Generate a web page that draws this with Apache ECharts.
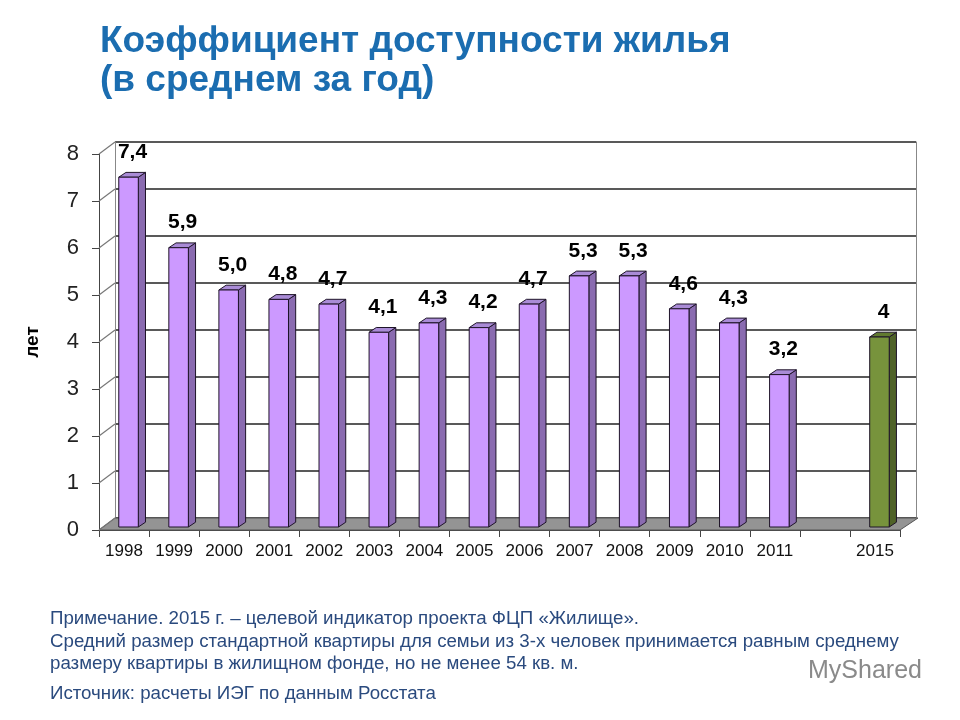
<!DOCTYPE html>
<html><head><meta charset="utf-8">
<script src="https://cdn.jsdelivr.net/npm/echarts@6/dist/echarts.min.js"></script>
<style>html,body{margin:0;padding:0;background:#fff}#c{width:960px;height:720px}</style>
</head><body><div id="c"></div>
<script>
const categories = ['1998','1999','2000','2001','2002','2003','2004','2005','2006','2007','2008','2009','2010','2011','','2015'];
const values = [7.4, 5.9, 5.0, 4.8, 4.7, 4.1, 4.3, 4.2, 4.7, 5.3, 5.3, 4.6, 4.3, 3.2, null, 4];
const valueLabels = ['7,4','5,9','5,0','4,8','4,7','4,1','4,3','4,2','4,7','5,3','5,3','4,6','4,3','3,2','','4'];
const yTicks = [0,1,2,3,4,5,6,7,8];
const targetYear = '2015';

const titleText = 'Коэффициент доступности жилья\n(в среднем за год)';
const noteLines = [
  'Примечание. 2015 г. – целевой индикатор проекта ФЦП «Жилище».',
  'Средний размер стандартной квартиры для семьи из 3-х человек принимается равным среднему',
  'размеру квартиры в жилищном фонде, но не менее 54 кв. м.',
  'Источник: расчеты ИЭГ по данным Росстата'
];

const chart = echarts.init(document.getElementById('c'));
const barData = [];
values.forEach((v,i)=>{ if(v!==null) barData.push([i,v]); });

const purple = {front:'#cc99ff', side:'#8a6bb0', top:'#a98bd6'};
const green = {front:'#77933c', side:'#4f6228', top:'#617a30'};
const DX = 8, DY = -6;   // bar depth
const WX = 16, WY = -12; // wall depth

function renderBar(params, api){
  const i = api.value(0), v = api.value(1);
  const band = api.size([1,0])[0];
  const w = band*0.39;
  const p0 = api.coord([i,0]);
  const p1 = api.coord([i,v]);
  const cx = p0[0] + band*0.09;
  const x0 = cx - w/2, x1 = cx + w/2;
  const yb = p0[1]-3, yt = p1[1]-5;
  const c = categories[i]===targetYear ? green : purple;
  const st = '#1e1428';
  return {type:'group', children:[
    {type:'polygon', shape:{points:[[x1,yb],[x1+DX*0.9,yb+DY*0.8],[x1+DX*0.9,yt+DY*0.8],[x1,yt]]}, style:{fill:c.side, stroke:st, lineWidth:1}},
    {type:'polygon', shape:{points:[[x0,yt],[x1,yt],[x1+DX*0.9,yt+DY*0.8],[x0+DX*0.9,yt+DY*0.8]]}, style:{fill:c.top, stroke:st, lineWidth:1}},
    {type:'rect', shape:{x:x0,y:yt,width:w,height:yb-yt}, style:{fill:c.front, stroke:st, lineWidth:1}},
    {type:'text', style:{text:valueLabels[i], x:cx+4, y:yt-25, align:'center', verticalAlign:'middle',
      fontSize:21, fontWeight:'bold', fontFamily:'Liberation Sans, Arial', fill:'#000'}}
  ]};
}

function renderWall(params, api){
  const cs = params.coordSys;
  const v = api.value(0);
  const p = api.coord([0, v]);
  const x0 = cs.x;
  return {type:'line', shape:{x1:x0, y1:p[1], x2:x0+WX, y2:p[1]+WY}, style:{stroke:'#777', lineWidth:1.2}};
}

function renderFloor(params, api){
  const cs = params.coordSys;
  const yb = cs.y + cs.height;
  const xl = cs.x, xr = cs.x + cs.width;
  return {type:'polygon', shape:{points:[[xl,yb],[xr,yb],[xr+WX+2,yb+WY],[xl+WX,yb+WY]]},
    style:{fill:'#949494', stroke:'#555', lineWidth:1}};
}

const noteFont = 'Liberation Sans, Arial';
const noteColor = '#2a4a7e';
const option = {
  animation:false,
  backgroundColor:'#fff',
  title:{text:titleText, left:95, top:17,
    textStyle:{fontSize:37, fontWeight:'bold', color:'#1b6db0', fontFamily:'Liberation Sans, Arial', lineHeight:39}},
  grid:[
    {left:99, right:60, top:154, bottom:190},
    {left:99+WX, right:60-WX, top:154+WY, bottom:190-WY}
  ],
  xAxis:[
    {type:'category', gridIndex:0, data:categories, boundaryGap:true,
      axisLine:{show:true, lineStyle:{color:'#444', width:1}},
      axisTick:{show:true, interval:0, length:7, lineStyle:{color:'#444'}},
      axisLabel:{interval:0, color:'#111', fontSize:17, margin:13, fontFamily:'Liberation Sans, Arial'}},
    {type:'category', gridIndex:1, data:categories, show:false}
  ],
  yAxis:[
    {type:'value', gridIndex:0, min:0, max:8, interval:1,
      name:'лет', nameLocation:'middle', nameGap:57, nameRotate:90,
      nameTextStyle:{fontSize:19, fontWeight:'bold', color:'#000', fontFamily:'Liberation Sans, Arial'},
      axisLine:{show:true, lineStyle:{color:'#444', width:1}},
      axisTick:{show:true, length:7, lineStyle:{color:'#444'}},
      axisLabel:{color:'#222', fontSize:22, margin:20, fontFamily:'Liberation Sans, Arial'},
      splitLine:{show:false}},
    {type:'value', gridIndex:1, min:0, max:8, interval:1,
      axisLine:{show:true, lineStyle:{color:'#888', width:1}},
      axisTick:{show:false}, axisLabel:{show:false},
      splitLine:{show:true, lineStyle:{color:'#222', width:1.6}}},
    {type:'value', gridIndex:1, min:0, max:8, interval:1, position:'right',
      axisLine:{show:true, lineStyle:{color:'#888', width:1}},
      axisTick:{show:false}, axisLabel:{show:false}, splitLine:{show:false}}
  ],
  series:[
    {type:'custom', xAxisIndex:0, yAxisIndex:0, data:[[0]], renderItem:renderFloor, z:1, silent:true},
    {type:'custom', xAxisIndex:0, yAxisIndex:0, data:yTicks.map(v=>[v]), renderItem:renderWall, z:1, silent:true},
    {type:'custom', xAxisIndex:0, yAxisIndex:0, data:barData, encode:{x:0,y:1}, renderItem:renderBar, z:5}
  ],
  graphic:[
    {type:'text', left:50, top:609, style:{text:noteLines[0], fontSize:18.7, fill:noteColor, fontFamily:noteFont}},
    {type:'text', left:50, top:632, style:{text:noteLines[1], fontSize:18.7, fill:noteColor, fontFamily:noteFont}},
    {type:'text', left:50, top:654, style:{text:noteLines[2], fontSize:18.7, fill:noteColor, fontFamily:noteFont}},
    {type:'text', left:50, top:684, style:{text:noteLines[3], fontSize:18.7, fill:noteColor, fontFamily:noteFont}},
    {type:'text', left:808, top:659, style:{text:'MyShared', fontSize:25, fill:'#8a8a8a', fontFamily:'Liberation Sans, Arial'}}
  ]
};
chart.setOption(option);
</script>
</body></html>
